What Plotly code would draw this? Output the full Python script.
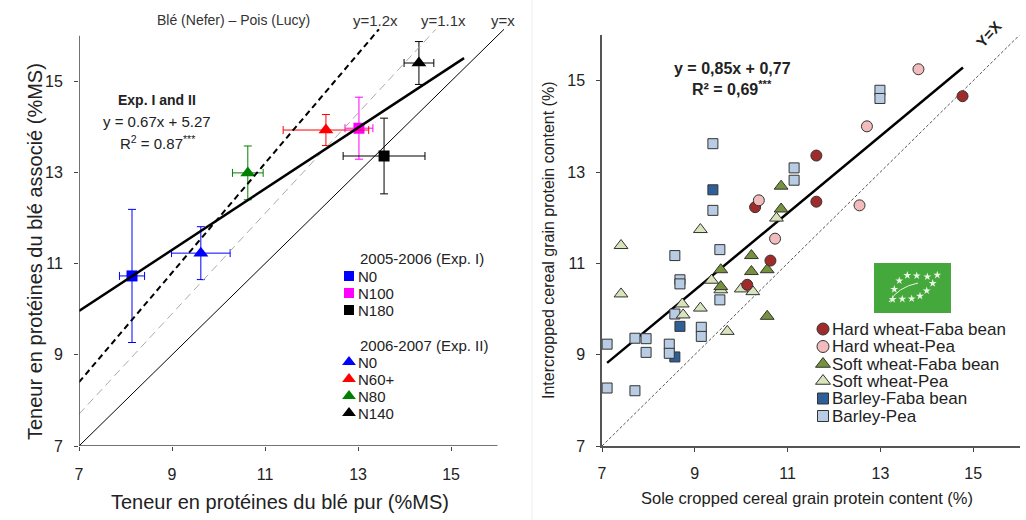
import plotly.graph_objects as go

W, H = 1026, 520

# ---------------- Left panel data ----------------
exp1_labels = ["N0", "N100", "N180"]
exp1_colors = ["#0000ff", "#ff00ff", "#000000"]
exp1_x = [8.14, 13.02, 13.56]
exp1_y = [10.73, 13.97, 13.36]
exp1_xerr = [0.27, 0.30, 0.88]
exp1_yerr = [1.46, 0.68, 0.83]

exp2_labels = ["N0", "N60+", "N80", "N140"]
exp2_colors = ["#0000ff", "#ff0000", "#008000", "#000000"]
exp2_x = [9.62, 12.31, 10.63, 14.31]
exp2_y = [11.23, 13.93, 12.99, 15.40]
exp2_xerr = [0.63, 0.92, 0.33, 0.32]
exp2_yerr = [0.58, 0.34, 0.59, 0.47]

left_fit_x = [7.0, 15.28]
left_fit_slope, left_fit_icpt = 0.67, 5.27
ref12_x = [7.0, 13.45]
ref11_x = [7.0, 14.67]
ref1_x = [7.0, 16.14]

ticks = [7, 9, 11, 13, 15]

# ---------------- Right panel data ----------------
series_names = ["Barley-Faba bean", "Barley-Pea", "Soft wheat-Pea",
                "Soft wheat-Faba bean", "Hard wheat-Faba bean", "Hard wheat-Pea"]
barley_faba_x = [9.39, 8.68, 8.57]
barley_faba_y = [12.61, 9.62, 8.95]
barley_pea_x = [9.39, 9.39, 11.14, 11.14, 9.54, 8.57, 8.68, 8.68, 9.54, 8.57, 9.14,
                9.14, 7.71, 7.95, 7.95, 7.11, 8.45, 8.45, 7.11, 7.71, 12.99, 12.99]
barley_pea_y = [13.62, 12.16, 13.09, 12.82, 11.30, 11.17, 10.64, 10.55, 10.20, 9.89, 9.60,
                9.40, 9.36, 9.35, 9.05, 9.23, 9.23, 9.03, 8.27, 8.21, 14.79, 14.61]
soft_pea_x = [7.41, 7.41, 9.12, 9.36, 9.56, 10.00, 10.25, 8.73, 8.75, 9.12, 9.70, 10.76]
soft_pea_y = [11.39, 10.33, 11.74, 10.63, 10.42, 10.44, 10.38, 10.11, 9.87, 10.02, 9.51, 11.99]
soft_faba_x = [10.86, 10.86, 10.22, 10.22, 10.56, 9.56, 9.56, 10.56]
soft_faba_y = [12.69, 12.19, 11.17, 10.82, 10.86, 10.86, 10.49, 9.84]
hard_faba_x = [11.62, 11.62, 10.30, 10.63, 10.13, 14.77]
hard_faba_y = [13.36, 12.35, 12.23, 11.06, 10.53, 14.66]
hard_pea_x = [10.38, 10.73, 12.71, 12.55, 13.82]
hard_pea_y = [12.38, 11.54, 14.00, 12.27, 15.25]

right_fit_x = [7.11, 14.78]
right_fit_y = [8.82, 15.29]
yx_line = [7, 16]

right_series = [
    (barley_faba_x, barley_faba_y, "square", "#2f5f97", 10),
    (barley_pea_x, barley_pea_y, "square", "#b8cce4", 10),
    (soft_pea_x, soft_pea_y, "triangle-up", "#d8e4bc", 12),
    (soft_faba_x, soft_faba_y, "triangle-up", "#76923c", 12),
    (hard_faba_x, hard_faba_y, "circle", "#a02b2b", 11),
    (hard_pea_x, hard_pea_y, "circle", "#f2bcbc", 11),
]
legend_order = [
    ("Hard wheat-Faba bean", "circle", "#a02b2b", 12),
    ("Hard wheat-Pea", "circle", "#f2bcbc", 12),
    ("Soft wheat-Faba bean", "triangle-up", "#76923c", 13),
    ("Soft wheat-Pea", "triangle-up", "#d8e4bc", 13),
    ("Barley-Faba bean", "square", "#2f5f97", 11),
    ("Barley-Pea", "square", "#b8cce4", 11),
]

FONT = "Liberation Sans, Arial, sans-serif"
TXT = "#222222"

fig = go.Figure()

# ---- left panel traces
for i in range(len(exp1_x)):
    c = exp1_colors[i]
    fig.add_trace(go.Scatter(
        x=[exp1_x[i]], y=[exp1_y[i]], mode="markers", xaxis="x", yaxis="y",
        marker=dict(symbol="square", size=11, color=c),
        error_x=dict(type="data", array=[exp1_xerr[i]], color=c, thickness=1, width=4),
        error_y=dict(type="data", array=[exp1_yerr[i]], color=c, thickness=1, width=4),
        showlegend=False, name=exp1_labels[i]))
for i in range(len(exp2_x)):
    c = exp2_colors[i]
    fig.add_trace(go.Scatter(
        x=[exp2_x[i]], y=[exp2_y[i]], mode="markers", xaxis="x", yaxis="y",
        marker=dict(symbol="triangle-up", size=13, color=c),
        error_x=dict(type="data", array=[exp2_xerr[i]], color=c, thickness=1, width=4),
        error_y=dict(type="data", array=[exp2_yerr[i]], color=c, thickness=1, width=4),
        showlegend=False, name=exp2_labels[i]))

fig.add_trace(go.Scatter(x=ref1_x, y=ref1_x, mode="lines", xaxis="x", yaxis="y",
                         line=dict(color="#000", width=1), showlegend=False, hoverinfo="skip"))
fig.add_trace(go.Scatter(x=ref11_x, y=[1.1 * v for v in ref11_x], mode="lines", xaxis="x", yaxis="y",
                         line=dict(color="#aaaaaa", width=1, dash="8px,5px"), showlegend=False, hoverinfo="skip"))
fig.add_trace(go.Scatter(x=ref12_x, y=[1.2 * v for v in ref12_x], mode="lines", xaxis="x", yaxis="y",
                         line=dict(color="#000", width=2, dash="6px,4px"), showlegend=False, hoverinfo="skip"))
fig.add_trace(go.Scatter(x=left_fit_x, y=[left_fit_slope * v + left_fit_icpt for v in left_fit_x],
                         mode="lines", xaxis="x", yaxis="y",
                         line=dict(color="#000", width=2.5), showlegend=False, hoverinfo="skip"))

# ---- right panel traces
fig.add_trace(go.Scatter(x=yx_line, y=yx_line, mode="lines", xaxis="x2", yaxis="y2",
                         line=dict(color="#555", width=1, dash="3px,2px"), showlegend=False, hoverinfo="skip"))
fig.add_trace(go.Scatter(x=right_fit_x, y=right_fit_y, mode="lines", xaxis="x2", yaxis="y2",
                         line=dict(color="#000", width=2.5), showlegend=False, hoverinfo="skip"))
for (xs, ys, sym, col, sz), nm in zip(right_series, series_names):
    fig.add_trace(go.Scatter(x=xs, y=ys, mode="markers", xaxis="x2", yaxis="y2", name=nm,
                             marker=dict(symbol=sym, size=sz, color=col,
                                         line=dict(color="#333", width=1)),
                             showlegend=False))

# ---- overlay (pixel coordinates) for legends and logo
leftleg_x = 349
exp1_rows = [276, 293, 310]
exp2_rows = [362, 379, 396, 413]
fig.add_trace(go.Scatter(x=[leftleg_x] * 3, y=exp1_rows, mode="markers", xaxis="x3", yaxis="y3",
                         marker=dict(symbol="square", size=10, color=exp1_colors),
                         showlegend=False, hoverinfo="skip"))
fig.add_trace(go.Scatter(x=[leftleg_x] * 4, y=exp2_rows, mode="markers", xaxis="x3", yaxis="y3",
                         marker=dict(symbol="triangle-up", size=12, color=exp2_colors),
                         showlegend=False, hoverinfo="skip"))
rightleg_x = 823
right_rows = [329, 346.5, 364, 381, 398.5, 416]
for (nm, sym, col, sz), ry in zip(legend_order, right_rows):
    fig.add_trace(go.Scatter(x=[rightleg_x], y=[ry], mode="markers", xaxis="x3", yaxis="y3",
                             marker=dict(symbol=sym, size=sz, color=col, line=dict(color="#333", width=1)),
                             showlegend=False, hoverinfo="skip"))

# EU organic logo
logo_star_x = [892.7, 894.3, 899.3, 907.3, 916.7, 927.3, 937.3, 932.7, 926.7, 920.0, 911.7, 902.3]
logo_star_y = [299.3, 289.3, 280.7, 275.3, 275.7, 276.7, 275.0, 283.3, 290.7, 296.0, 298.7, 299.0]

annotations = []
shapes = []

shapes.append(dict(type="rect", xref="x3", yref="y3", x0=874, x1=951, y0=263, y1=313,
                   fillcolor="#44a83c", line=dict(width=0), layer="below"))
shapes.append(dict(type="path", xref="x3", yref="y3", path="M 889 302 Q 898 287 918 283",
                   line=dict(color="#e8f5e0", width=1)))
fig.add_trace(go.Scatter(x=logo_star_x, y=logo_star_y, mode="markers", xaxis="x3", yaxis="y3",
                         marker=dict(symbol="star", size=6, color="#eaf6e4", line=dict(width=0)),
                         showlegend=False, hoverinfo="skip"))

# left axis lines
shapes.append(dict(type="line", xref="x", yref="y", x0=7, x1=16, y0=7, y1=7,
                   line=dict(color="#444", width=1.5)))
shapes.append(dict(type="line", xref="x", yref="y", x0=7, x1=7, y0=7, y1=16,
                   line=dict(color="#444", width=1.5)))
# faint separator on right panel
shapes.append(dict(type="line", xref="x3", yref="y3", x0=532, x1=532, y0=0, y1=520,
                   line=dict(color="#eeeeee", width=1)))


def ann(x, y, text, size, anchor="center", bold=False, angle=0, color=TXT):
    annotations.append(dict(xref="x3", yref="y3", x=x, y=y, text=("<b>%s</b>" % text) if bold else text,
                            showarrow=False, xanchor=anchor, yanchor="middle", textangle=angle,
                            font=dict(family=FONT, size=size, color=color)))


# left texts
ann(233, 20, "Blé (Nefer) – Pois (Lucy)", 14, color="#333")
ann(375, 20, "y=1.2x", 15, color="#333")
ann(443, 20, "y=1.1x", 15, color="#333")
ann(503, 20, "y=x", 15, color="#333")
ann(157, 100, "Exp. I and II", 14, bold=True)
ann(157, 121, "y = 0.67x + 5.27", 15)
ann(157, 142, "R<sup>2</sup> = 0.87<sup>***</sup>", 15)
ann(358, 258, "2005-2006 (Exp. I)", 15, anchor="left")
ann(358, 345, "2006-2007 (Exp. II)", 15, anchor="left")
for lab, ry in zip(exp1_labels, exp1_rows):
    ann(356, ry, lab, 15, anchor="left")
for lab, ry in zip(exp2_labels, exp2_rows):
    ann(356, ry, lab, 15, anchor="left")
ann(280, 502, "Teneur en protéines du blé pur (%MS)", 20)
ann(35, 252, "Teneur en protéines du blé associé (%MS)", 20, angle=-90)

# right texts
ann(732, 68, "y = 0,85x + 0,77", 16, bold=True)
ann(732, 88, "R² = 0,69<sup>***</sup>", 16, bold=True)
ann(988, 34, "Y=X", 15, bold=True, angle=-48)
for (nm, sym, col, sz), ry in zip(legend_order, right_rows):
    ann(830, ry, nm, 17, anchor="left")
ann(807, 498, "Sole cropped cereal grain protein content (%)", 16.5)
ann(548, 240, "Intercropped cereal grain protein content (%)", 16, angle=-90)

axis_common = dict(tickvals=ticks, ticktext=[str(t) for t in ticks], ticks="outside", ticklen=4,
                   tickcolor="#444", showgrid=False, zeroline=False, fixedrange=True, automargin=False,
                   tickfont=dict(family=FONT, size=16, color=TXT))

fig.update_layout(
    template="none",
    width=W, height=H, margin=dict(l=0, r=0, t=0, b=0, autoexpand=False),
    paper_bgcolor="white", plot_bgcolor="rgba(0,0,0,0)",
    xaxis=dict(domain=[79 / W, 504.5 / W], range=[7, 16.15], anchor="y", showline=False,
               ticklabelstandoff=10, **axis_common),
    yaxis=dict(domain=[(H - 446) / H, (H - 28.8) / H], range=[7, 16.15], anchor="x", showline=False,
               ticklabelstandoff=8, **axis_common),
    xaxis2=dict(domain=[602 / W, 1019.6 / W], range=[7, 16], anchor="y2", showline=True,
                linecolor="#555", linewidth=1.5, ticklabelstandoff=8, **axis_common),
    yaxis2=dict(domain=[(H - 446) / H, (H - 35) / H], range=[7, 16], anchor="x2", showline=True,
                linecolor="#555", linewidth=1.5, ticklabelstandoff=8, **axis_common),
    xaxis3=dict(domain=[0, 1], range=[0, W], anchor="y3", visible=False, fixedrange=True, automargin=False),
    yaxis3=dict(domain=[0, 1], range=[H, 0], anchor="x3", visible=False, fixedrange=True, automargin=False),
    annotations=annotations, shapes=shapes, showlegend=False,
)

fig.write_html("out.html", config={"displayModeBar": False},
               post_script="document.body.style.margin='0';document.body.style.overflow='hidden';")
